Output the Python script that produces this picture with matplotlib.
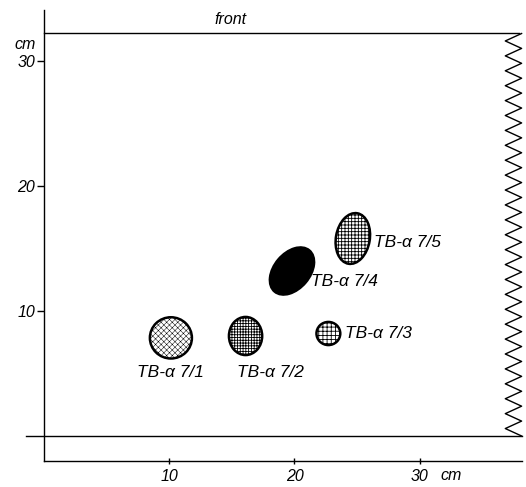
import numpy as np
import matplotlib
matplotlib.use("Agg")
import matplotlib.pyplot as plt
from matplotlib.patches import Ellipse

# spots on the chromatogram (cm)
spot_names = ["TB-\u03b1 7/1", "TB-\u03b1 7/2", "TB-\u03b1 7/3", "TB-\u03b1 7/4", "TB-\u03b1 7/5"]
spot_x = [10.15, 16.1, 22.7, 19.8, 24.65]
spot_y = [7.85, 8.0, 8.2, 13.2, 15.8]
spot_w = [3.35, 2.65, 1.9, 4.3, 2.7]
spot_h = [3.3, 3.05, 1.85, 2.85, 4.1]
spot_angle = [0, 0, 0, 50, -10]

front_y = 32.2
plate_right = 38.1
xticks = [10, 20, 30]
yticks = [10, 20, 30]

hatches = ["xxxxxx", "++++++", "++++", None, "+++++"]
fills = ["white", "white", "white", "black", "white"]

plt.rcParams['font.family'] = ['Liberation Sans', 'DejaVu Sans']
plt.rcParams['font.style'] = 'italic'
plt.rcParams['hatch.linewidth'] = 0.6

fig = plt.figure(figsize=(5.26, 4.87), dpi=100)
ax = fig.add_axes([0, 0, 1, 1])
ax.set_xlim(-3.47, 38.45)
ax.set_ylim(-4.08, 34.88)

for s in ['top', 'right']:
    ax.spines[s].set_visible(False)
ax.spines['left'].set_position(('data', 0))
ax.spines['bottom'].set_position(('data', -2))
ax.spines['left'].set_bounds(-2, 34.1)
ax.spines['bottom'].set_bounds(0, plate_right)
ax.spines['left'].set_linewidth(1.0)
ax.spines['bottom'].set_linewidth(1.0)

ax.set_xticks(xticks)
ax.set_yticks(yticks)
ax.set_xticklabels([str(t) for t in xticks], fontsize=11.5, style='italic')
ax.set_yticklabels([str(t) for t in yticks], fontsize=11.5, style='italic')
ax.tick_params(axis='y', direction='out', length=5, width=1, pad=1)
ax.tick_params(axis='x', direction='inout', length=5, width=1, pad=3)

ax.text(-1.45, 31.3, "cm", fontsize=11.5, ha='center', va='center')
ax.text(32.5, -3.2, "cm", fontsize=11.5, ha='center', va='center')

# start line and solvent front
ax.plot([-1.4, plate_right], [0, 0], color='black', lw=1.0)
ax.plot([0, plate_right - 0.2], [front_y, front_y], color='black', lw=1.0)
ax.text(14.9, 33.3, "front", fontsize=11.5, ha='center', va='center')

# torn right edge of the plate
n_teeth = 27
zy = np.linspace(front_y, 0, 2 * n_teeth + 1)
zx = np.where(np.arange(len(zy)) % 2 == 0, plate_right, plate_right - 1.3)
ax.plot(zx, zy, color='black', lw=1.0)

for i in range(len(spot_names)):
    e = Ellipse((spot_x[i], spot_y[i]), spot_w[i], spot_h[i], angle=spot_angle[i],
                facecolor=fills[i], edgecolor='black', lw=1.8, hatch=hatches[i])
    if i == 0:
        e.set_hatch_linewidth(0.35)
    ax.add_patch(e)

# labels
ax.text(spot_x[0], 5.1, spot_names[0], fontsize=12.5, ha='center', va='center')
ax.text(spot_x[1] + 2.0, 5.1, spot_names[1], fontsize=12.5, ha='center', va='center')
ax.text(spot_x[2] + 1.35, spot_y[2], spot_names[2], fontsize=12.5, ha='left', va='center')
ax.text(spot_x[3] + 1.55, 12.4, spot_names[3], fontsize=12.5, ha='left', va='center')
ax.text(spot_x[4] + 1.7, 15.5, spot_names[4], fontsize=12.5, ha='left', va='center')

fig.savefig("out.png", dpi=100)
